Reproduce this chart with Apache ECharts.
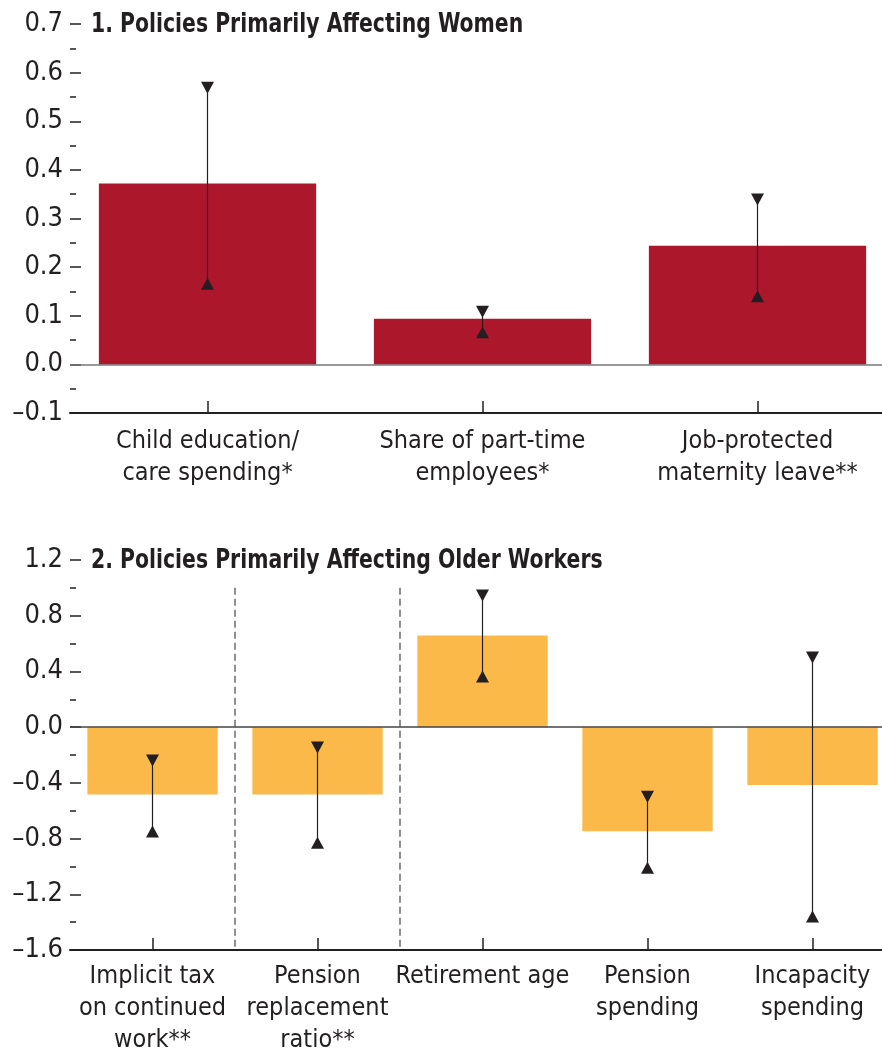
<!DOCTYPE html>
<html><head><meta charset="utf-8">
<script src="https://cdn.jsdelivr.net/npm/echarts@6/dist/echarts.min.js"></script>
<style>html,body{margin:0;padding:0;background:#fff}#c{width:882px;height:1054px}</style>
</head><body><div id="c"></div><script>
// ---- data ----
const womenCategories = ['Child education/\ncare spending*', 'Share of part-time\nemployees*', 'Job-protected\nmaternity leave**'];
const womenValues = [0.372, 0.094, 0.244];
const womenLow = [0.166, 0.066, 0.140];
const womenHigh = [0.569, 0.108, 0.339];

const olderCategories = ['Implicit tax\non continued\nwork**', 'Pension\nreplacement\nratio**', 'Retirement age', 'Pension\nspending', 'Incapacity\nspending'];
const olderValues = [-0.483, -0.483, 0.658, -0.747, -0.416];
const olderLow = [-0.75, -0.83, 0.364, -1.01, -1.36];
const olderHigh = [-0.24, -0.146, 0.945, -0.50, 0.50];

const womenAxis = {min: -0.1, max: 0.7, interval: 0.1};
const olderAxis = {min: -1.6, max: 1.2, interval: 0.4};
const separatorSpan = [1.0, -1.6];
const separatorAt = [0.5, 1.5];

const titles = ['1. Policies Primarily Affecting Women', '2. Policies Primarily Affecting Older Workers'];

// ---- style ----
const FONT = "'DejaVu Sans Condensed', 'Liberation Sans Narrow', sans-serif";
const INK = '#231F20';
const RED = '#AD172C';
const ORANGE = '#FBB94A';

function fmt(v) {
  const s = Math.abs(v).toFixed(1);
  return v < -1e-9 ? '\u2013' + s : s;
}

function errRender(params, api) {
  const x = api.value(0);
  const lo = api.coord([x, api.value(1)]);
  const hi = api.coord([x, api.value(2)]);
  const s = 6.5, h = 12;
  return {type: 'group', children: [
    {type: 'line', shape: {x1: lo[0], y1: lo[1], x2: hi[0], y2: hi[1]}, style: {stroke: INK, lineWidth: 1.2}},
    {type: 'polygon', shape: {points: [[hi[0] - s, hi[1] - h / 2], [hi[0] + s, hi[1] - h / 2], [hi[0], hi[1] + h / 2]]}, style: {fill: INK}},
    {type: 'polygon', shape: {points: [[lo[0] - s, lo[1] + h / 2], [lo[0] + s, lo[1] + h / 2], [lo[0], lo[1] - h / 2]]}, style: {fill: INK}}
  ]};
}

function yAxisCfg(gi, ax) {
  return {
    type: 'value', gridIndex: gi, min: ax.min, max: ax.max, interval: ax.interval,
    axisLine: {show: false, onZero: false},
    axisTick: {show: true, inside: true, length: 11, lineStyle: {color: INK, width: 1.5}},
    minorTick: {show: true, splitNumber: 2, length: 6, lineStyle: {color: INK, width: 1.5}},
    splitLine: {show: false},
    axisLabel: {formatter: fmt, color: INK, fontFamily: FONT, fontSize: 27, margin: 7}
  };
}

function xAxisCfg(gi, cats, margin) {
  return {
    type: 'category', gridIndex: gi, data: cats,
    axisLine: {show: true, onZero: false, lineStyle: {color: INK, width: 2}},
    axisTick: {show: true, inside: true, alignWithLabel: true, length: 12, lineStyle: {color: INK, width: 1.5}},
    axisLabel: {color: INK, fontFamily: FONT, fontSize: 25, lineHeight: 32, margin: margin, interval: 0}
  };
}

const zeroLine = (color) => ({
  silent: true, symbol: 'none', label: {show: false},
  lineStyle: {color: color, width: 1.5, type: 'solid'},
  data: [{yAxis: 0}]
});

const titleText = (t, y) => ({
  type: 'text', x: 91, y: y, scaleX: 0.84, silent: true,
  style: {text: t, fontFamily: FONT, fontSize: 27, fontWeight: 'bold', fill: INK, textVerticalAlign: 'middle', textAlign: 'left'}
});

const option = {
  animation: false,
  backgroundColor: '#fff',
  graphic: [titleText(titles[0], 25), titleText(titles[1], 561)],
  grid: [
    {left: 70, top: 24, width: 825, height: 389, outerBoundsMode: 'none', containLabel: false},
    {left: 70, top: 560, width: 825, height: 390, outerBoundsMode: 'none', containLabel: false}
  ],
  xAxis: [
    xAxisCfg(0, womenCategories, 12),
    xAxisCfg(1, olderCategories, 10),
    {type: 'value', gridIndex: 1, min: -0.5, max: 4.5, show: false}
  ],
  yAxis: [yAxisCfg(0, womenAxis), yAxisCfg(1, olderAxis)],
  series: [
    {type: 'bar', xAxisIndex: 0, yAxisIndex: 0, data: womenValues, barWidth: '79%', itemStyle: {color: RED}, markLine: zeroLine('#777')},
    {type: 'custom', xAxisIndex: 0, yAxisIndex: 0, renderItem: errRender, data: womenCategories.map((c, i) => [i, womenLow[i], womenHigh[i]]), z: 5},
    {type: 'bar', xAxisIndex: 1, yAxisIndex: 1, data: olderValues, barWidth: '79%', itemStyle: {color: ORANGE}, markLine: zeroLine('#444')},
    {type: 'custom', xAxisIndex: 1, yAxisIndex: 1, renderItem: errRender, data: olderCategories.map((c, i) => [i, olderLow[i], olderHigh[i]]), z: 5},
    ...separatorAt.map(p => ({
      type: 'line', xAxisIndex: 2, yAxisIndex: 1, symbol: 'none', silent: true,
      data: [[p, separatorSpan[0]], [p, separatorSpan[1]]],
      lineStyle: {color: '#444', width: 1.2, type: [7, 4]}
    }))
  ]
};

const chart = echarts.init(document.getElementById('c'), null, {renderer: 'canvas'});
chart.setOption(option);
</script></body></html>
